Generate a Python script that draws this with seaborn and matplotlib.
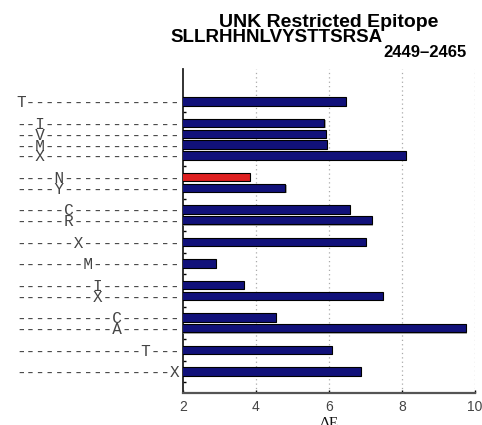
import matplotlib
matplotlib.use("Agg")
import matplotlib.pyplot as plt
import matplotlib.patheffects as pe
import numpy as np
import pandas as pd
import seaborn as sns

# Epitope and the substitutions scored at each residue
epitope = "SLLRHHNLVYSTTSRSA"
span = "2449\u20132465"
residue_index = [0, 2, 2, 2, 2, 4, 4, 5, 5, 6, 7, 8, 8, 10, 10, 13, 16]
substitution = ["T", "I", "V", "M", "X", "N", "Y", "C", "R", "X", "M", "I", "X", "C", "A", "T", "X"]
delta_e = [6.46, 5.88, 5.92, 5.95, 8.12, 3.83, 4.81, 6.58, 7.18, 7.02,
           2.91, 3.68, 7.49, 4.54, 9.77, 6.08, 6.87]
highlighted = [False, False, False, False, False, True, False, False, False, False,
               False, False, False, False, False, False, False]
x_ticks = [2, 4, 6, 8, 10]

# Stack bars by residue, leaving one empty row between residue groups
rows, group_ends = [], []
row = 0
for i, r in enumerate(residue_index):
    if i > 0 and r != residue_index[i - 1]:
        group_ends.append(row)
        row += 1
    rows.append(row)
    row += 1
group_ends.append(row)

labels = ["-" * r + s + "-" * (len(epitope) - 1 - r) for r, s in zip(residue_index, substitution)]

df = pd.DataFrame({"row": rows, "dE": delta_e, "hl": highlighted})

sns.set_style("white")
fig = plt.figure(figsize=(4.82, 4.25), dpi=100)
ax = fig.add_axes([183 / 482, 1 - 393 / 425, (474.7 - 183) / 482, (393 - 69) / 425])

sns.barplot(data=df, x="dE", y="row", hue="hl", orient="y", native_scale=True,
            dodge=False, palette={False: "#00008B", True: "#FF0000"}, legend=False,
            width=0.78, errorbar=None, edgecolor="black", linewidth=0.8, ax=ax, zorder=3)
for p in ax.patches:
    p.set_path_effects([pe.SimplePatchShadow(offset=(0.8, -0.8), shadow_rgbFace="#888888", alpha=0.7),
                        pe.Normal()])

ax.set_xlim(2, 10)
ax.set_ylim(row + 1, -3)
ax.set_xticks(x_ticks)
ax.set_xticklabels([str(t) for t in x_ticks], fontfamily="Liberation Sans", fontsize=10, color="#444444")
ax.set_yticks(rows)
ax.set_yticklabels(labels, fontfamily="Liberation Mono", fontsize=11.5, color="#444444")
ax.set_yticks(group_ends, minor=True)
ax.tick_params(axis="y", which="major", length=0, pad=2)
ax.tick_params(axis="y", which="minor", direction="in", length=2.5, width=1, color="black", left=True)
ax.tick_params(axis="x", which="major", direction="in", length=2.5, width=1, color="black", bottom=True, pad=5)
ax.set_xlabel("")
ax.set_ylabel("")

ax.grid(False)
for v in x_ticks[1:]:
    ax.axvline(v, color="#aaaaaa", linestyle=(0, (1, 2.5)), linewidth=0.9, zorder=1)

for s in ["top", "right"]:
    ax.spines[s].set_visible(False)
ax.spines["left"].set_color("#222222")
ax.spines["left"].set_linewidth(1.3)
ax.spines["bottom"].set_color("#555555")
ax.spines["bottom"].set_linewidth(1.6)

# Title block
fig.text(329 / 482, 1 - 27 / 425, "UNK Restricted Epitope", ha="center", va="baseline",
         fontsize=14, fontweight="bold", fontfamily="Liberation Sans", color="black")
fig.text(383 / 482, 1 - 42 / 425, epitope, ha="right", va="baseline",
         fontsize=13.5, fontweight="bold", fontfamily="Liberation Sans", color="black")
fig.text(383 / 482, 1 - 57 / 425, span, ha="left", va="baseline",
         fontsize=12, fontweight="bold", fontfamily="Liberation Sans", color="black")

fig.text(329 / 482, 1 - 427 / 425, "\u0394E", ha="center", va="baseline",
         fontsize=11, fontfamily="Liberation Serif", color="#111111")

fig.savefig("out.png", dpi=100)
